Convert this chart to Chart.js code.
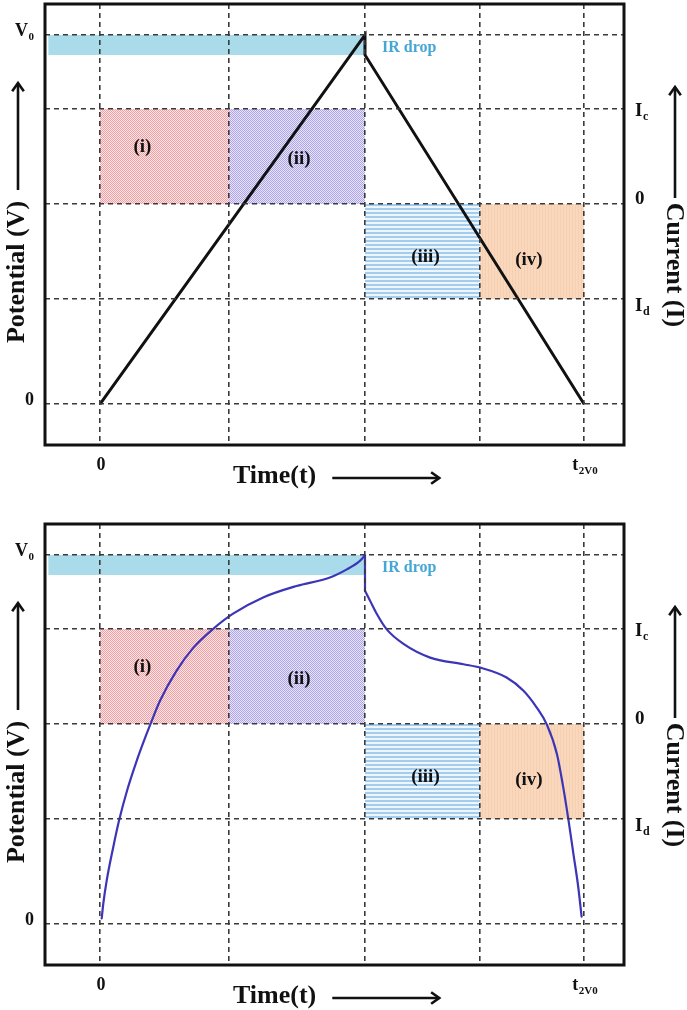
<!DOCTYPE html>
<html>
<head>
<meta charset="utf-8">
<script src="https://cdn.jsdelivr.net/npm/chart.js@4.4.1/dist/chart.umd.min.js"></script>
<style>
  html, body { margin: 0; padding: 0; background: #fff; width: 687px; height: 1010px; overflow: hidden; }
  .panel { position: absolute; left: 0; width: 687px; }
  #topPanel { top: 0; height: 505px; }
  #bottomPanel { top: 520px; height: 490px; }
</style>
</head>
<body>
<div class="panel" id="topPanel"><canvas id="edlc" width="687" height="505"></canvas></div>
<div class="panel" id="bottomPanel"><canvas id="battery" width="687" height="490"></canvas></div>
<script>
// ---- time axis: grid columns and their labels ("a|b" = a with subscript b)
const timeMarks = [0, 26.65, 54.75, 78.5, 100];
const timeLabels = ['0', '', '', '', 't|2V0'];

// ---- potential axis (left)
const potentialMarks = [0, 100];
const potentialLabels = ['0', 'V|0'];

// ---- current axis (right)
const currentMarks = [1, 0, -1];
const currentLabels = ['I|c', '0', 'I|d'];

// ---- applied current steps
const regionNames = ['(i)', '(ii)', '(iii)', '(iv)'];
const regionStart = [0, 26.65, 54.75, 78.5];
const regionEnd = [26.65, 54.75, 78.5, 100];
const regionCurrent = [1, 1, -1, -1];

// ---- IR drop band at the charge/discharge switch
const irBandStart = -10.7;
const irBandEnd = 54.75;
const irBandTop = 100;
const irBandBottom = 94.6;

// ---- ideal capacitive electrode: linear charge / discharge
const edlcTime = [0, 54.75, 54.75, 100];
const edlcPotential = [0, 100, 94.6, 0];

// ---- battery-type electrode: charge branch
const chargeTime = [0.35, 0.7, 1.4, 2.75, 3.95, 5.6, 7.6, 9.1, 10.4, 12.4, 15.8, 19.3, 23.4, 27.5, 33.7, 40.6, 47.5, 51.0, 53.7, 54.75];
const chargePotential = [1.5, 5.7, 11.9, 20.9, 28.1, 36.2, 44.3, 49.7, 54.1, 60.5, 68.6, 74.9, 80.0, 84.1, 88.5, 91.6, 93.9, 96.1, 98.4, 99.9];
// ---- battery-type electrode: IR drop after switching
const dropTime = [54.75, 54.75];
const dropPotential = [99.9, 90.3];
// ---- battery-type electrode: discharge branch
const dischargeTime = [54.75, 55.8, 57.2, 59.2, 62.7, 68.2, 75.1, 78.5, 84.0, 87.5, 90.2, 92.3, 94.4, 95.7, 96.8, 97.8, 98.8, 99.5];
const dischargePotential = [90.3, 87.6, 84.0, 79.9, 75.9, 72.2, 70.4, 69.5, 66.8, 63.2, 58.7, 54.1, 46.1, 37.1, 28.1, 19.1, 10.1, 2.0];

// ---- styling
const SERIF = '"Liberation Serif","Times New Roman",serif';
const INK = '#111';
const BLUE_LINE = '#3d35b8';
const font = px => 'bold ' + px + 'px ' + SERIF;
const zip = (xs, ys) => xs.map((x, i) => ({x: x, y: ys[i]}));

function makePattern(w, h, paint) {
  const c = document.createElement('canvas');
  c.width = w; c.height = h;
  const g = c.getContext('2d');
  paint(g);
  return g.createPattern(c, 'repeat');
}
const regionFills = [
  makePattern(2, 2, g => { g.fillStyle = '#fde6e6'; g.fillRect(0, 0, 2, 2); g.fillStyle = '#f0a0a4'; g.fillRect(0, 0, 1, 1); g.fillRect(1, 1, 1, 1); }),
  makePattern(2, 2, g => { g.fillStyle = '#e8e6fb'; g.fillRect(0, 0, 2, 2); g.fillStyle = '#ada3e6'; g.fillRect(0, 0, 1, 1); g.fillRect(1, 1, 1, 1); }),
  makePattern(1, 4, g => { g.fillStyle = '#eef6fc'; g.fillRect(0, 0, 1, 4); g.fillStyle = '#a2cdee'; g.fillRect(0, 0, 1, 2); }),
  makePattern(3, 1, g => { g.fillStyle = '#fad8bd'; g.fillRect(0, 0, 3, 1); g.fillStyle = '#f6cfb0'; g.fillRect(2, 0, 1, 1); })
];
// shifts of the region captions from the region centres (px)
const regionLabelShift = [[-22, -9], [2, 3], [3, 6], [-3, 9]];

function labelWidth(ctx, lab, size) {
  const parts = lab.split('|');
  ctx.font = font(size);
  let w = ctx.measureText(parts[0]).width;
  if (parts[1]) { ctx.font = font(Math.round(size * 0.62)); w += ctx.measureText(parts[1]).width + 0.5; }
  return w;
}
function drawLabel(ctx, lab, x, y, size, align) {
  const w = labelWidth(ctx, lab, size);
  const x0 = align === 'right' ? x - w : align === 'center' ? x - w / 2 : x;
  const parts = lab.split('|');
  ctx.textAlign = 'left';
  ctx.textBaseline = 'alphabetic';
  ctx.font = font(size);
  ctx.fillText(parts[0], x0, y);
  if (parts[1]) {
    const mw = ctx.measureText(parts[0]).width;
    ctx.font = font(Math.round(size * 0.62));
    ctx.fillText(parts[1], x0 + mw + 0.5, y + size * 0.22);
  }
}
function arrow(ctx, x1, y1, x2, y2) {
  ctx.save();
  ctx.strokeStyle = INK;
  ctx.lineWidth = 2.6;
  ctx.beginPath(); ctx.moveTo(x1, y1); ctx.lineTo(x2, y2); ctx.stroke();
  const a = Math.atan2(y2 - y1, x2 - x1), h = 10;
  ctx.lineJoin = 'miter';
  ctx.beginPath();
  ctx.moveTo(x2 - h * Math.cos(a - 0.62), y2 - h * Math.sin(a - 0.62));
  ctx.lineTo(x2, y2);
  ctx.lineTo(x2 - h * Math.cos(a + 0.62), y2 - h * Math.sin(a + 0.62));
  ctx.stroke();
  ctx.restore();
}

// frame, tick labels, axis titles and captions
const decorations = {
  id: 'decorations',
  afterDraw(chart) {
    const ctx = chart.ctx;
    const area = chart.chartArea;
    const sx = chart.scales.x, sy = chart.scales.y, si = chart.scales.yI;
    ctx.save();
    ctx.fillStyle = INK;

    // frame
    ctx.strokeStyle = INK;
    ctx.lineWidth = 3;
    ctx.strokeRect(area.left, area.top, area.right - area.left, area.bottom - area.top);

    // potential ticks
    potentialMarks.forEach((v, i) => drawLabel(ctx, potentialLabels[i], area.left - 11, sy.getPixelForValue(v) + 1, 18, 'right'));
    // current ticks
    const currentNudge = [7, 0, 12];
    currentMarks.forEach((v, i) => drawLabel(ctx, currentLabels[i], area.right + 11, si.getPixelForValue(v) + currentNudge[i], 19, 'left'));
    // time ticks
    timeMarks.forEach((v, i) => { if (timeLabels[i]) drawLabel(ctx, timeLabels[i], sx.getPixelForValue(v) + 1, area.bottom + 25, 18, 'center'); });

    // x title + arrow
    ctx.font = font(26);
    ctx.textAlign = 'left';
    ctx.textBaseline = 'alphabetic';
    const tx = area.left + 188;
    ctx.fillText('Time(t)', tx, area.bottom + 38);
    const tw = ctx.measureText('Time(t)').width;
    arrow(ctx, tx + tw + 16, area.bottom + 33, tx + tw + 123, area.bottom + 33);

    // left title + arrow
    ctx.save();
    ctx.translate(17.5, area.top + 268);
    ctx.rotate(-Math.PI / 2);
    ctx.textAlign = 'center';
    ctx.textBaseline = 'middle';
    ctx.fillText('Potential (V)', 0, 0);
    ctx.restore();
    arrow(ctx, 18, area.top + 186, 18, area.top + 79);

    // right title + arrow
    ctx.save();
    ctx.translate(674, area.top + 261);
    ctx.rotate(Math.PI / 2);
    ctx.textAlign = 'center';
    ctx.textBaseline = 'middle';
    ctx.fillText('Current (I)', 0, 0);
    ctx.restore();
    arrow(ctx, 675, area.top + 194, 675, area.top + 83);

    // region captions
    ctx.font = font(19);
    ctx.textAlign = 'center';
    ctx.textBaseline = 'middle';
    regionNames.forEach((name, i) => {
      const cx = (sx.getPixelForValue(regionStart[i]) + sx.getPixelForValue(regionEnd[i])) / 2 + regionLabelShift[i][0];
      const cy = (si.getPixelForValue(0) + si.getPixelForValue(regionCurrent[i])) / 2 + regionLabelShift[i][1];
      ctx.fillText(name, cx, cy);
    });

    // IR drop caption
    ctx.fillStyle = '#45a7d6';
    ctx.font = font(16);
    ctx.textAlign = 'left';
    ctx.textBaseline = 'alphabetic';
    ctx.fillText('IR drop', sx.getPixelForValue(irBandEnd) + 17, sy.getPixelForValue(irBandTop) + 17);
    ctx.restore();
  }
};

function gridOpts() {
  return { color: '#3a3a3a', lineWidth: 1.6, drawTicks: false, z: 1 };
}

function buildChart(canvasId, curves, xAxisHeight) {
  const datasets = [];
  curves.forEach(c => datasets.push({
    data: zip(c.time, c.potential), yAxisID: 'y', borderColor: c.color, borderWidth: c.width,
    cubicInterpolationMode: c.smooth ? 'monotone' : 'default', tension: 0,
    pointRadius: 0, fill: false, order: 0, borderJoinStyle: 'miter', borderCapStyle: c.smooth ? 'round' : 'butt'
  }));
  datasets.push({
    data: [{x: irBandStart, y: irBandTop}, {x: irBandEnd, y: irBandTop}], yAxisID: 'y',
    borderWidth: 0, pointRadius: 0, fill: {value: irBandBottom}, backgroundColor: '#a9dbea', order: 1
  });
  regionNames.forEach((n, i) => datasets.push({
    data: [{x: regionStart[i], y: regionCurrent[i]}, {x: regionEnd[i], y: regionCurrent[i]}], yAxisID: 'yI',
    borderWidth: 0, pointRadius: 0, fill: {value: 0}, backgroundColor: regionFills[i], order: 1
  }));

  return new Chart(document.getElementById(canvasId), {
    type: 'line',
    data: { datasets: datasets },
    options: {
      responsive: false,
      animation: false,
      events: [],
      layout: { padding: { top: 4, left: 0, right: 0, bottom: 0 } },
      plugins: { legend: { display: false }, tooltip: { enabled: false } },
      scales: {
        x: {
          type: 'linear', min: -11.36, max: 108.26,
          grid: gridOpts(), border: { display: false, dash: [5, 4] },
          ticks: { display: false },
          afterBuildTicks: s => { s.ticks = timeMarks.map(v => ({value: v})); },
          afterFit: s => { s.height = xAxisHeight; }
        },
        y: {
          type: 'linear', position: 'left', min: -11.1, max: 108.4,
          grid: gridOpts(), border: { display: false, dash: [5, 4] },
          ticks: { display: false },
          afterBuildTicks: s => { s.ticks = potentialMarks.map(v => ({value: v})); },
          afterFit: s => { s.width = 45; }
        },
        yI: {
          type: 'linear', position: 'right', min: -2.537, max: 2.105,
          grid: gridOpts(), border: { display: false, dash: [5, 4] },
          ticks: { display: false },
          afterBuildTicks: s => { s.ticks = currentMarks.map(v => ({value: v})); },
          afterFit: s => { s.width = 63; }
        }
      }
    },
    plugins: [decorations]
  });
}

buildChart('edlc', [
  { time: edlcTime, potential: edlcPotential, color: INK, width: 3, smooth: false }
], 60);

buildChart('battery', [
  { time: chargeTime, potential: chargePotential, color: BLUE_LINE, width: 2.2, smooth: true },
  { time: dropTime, potential: dropPotential, color: BLUE_LINE, width: 2.2, smooth: false },
  { time: dischargeTime, potential: dischargePotential, color: BLUE_LINE, width: 2.2, smooth: true }
], 45);
</script>
</body>
</html>
